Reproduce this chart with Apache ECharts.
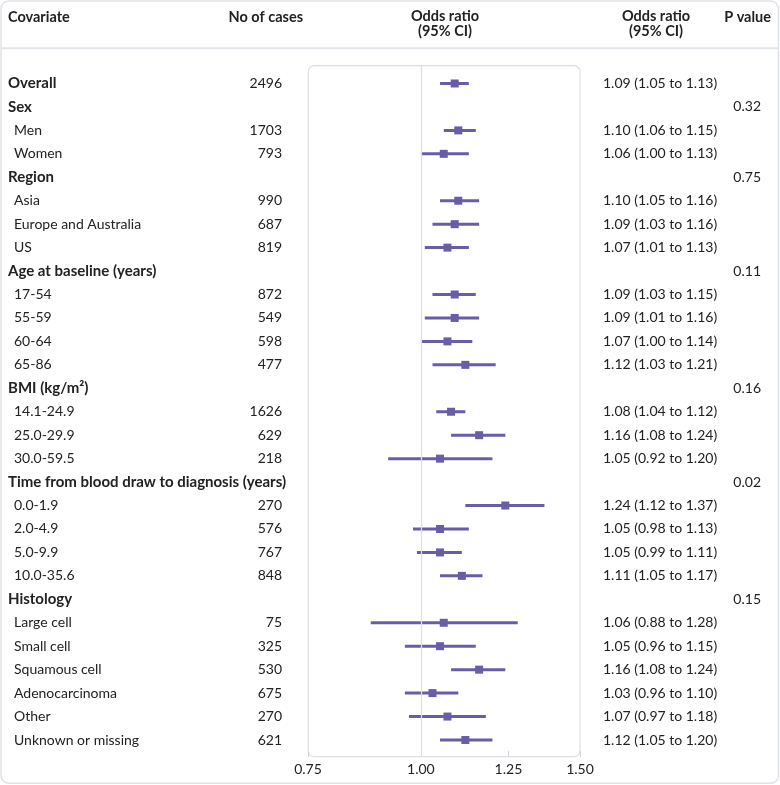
<!DOCTYPE html>
<html><head><meta charset="utf-8">
<script src="https://cdn.jsdelivr.net/npm/echarts@6/dist/echarts.min.js"></script>
<style>html,body{margin:0;padding:0;background:#fff}#c{width:780px;height:785px}</style>
</head><body><div id="c"></div>
<script>
const labels = ['Overall','Sex','Men','Women','Region','Asia','Europe and Australia','US','Age at baseline (years)','17-54','55-59','60-64','65-86','BMI (kg/m²)','14.1-24.9','25.0-29.9','30.0-59.5','Time from blood draw to diagnosis (years)','0.0-1.9','2.0-4.9','5.0-9.9','10.0-35.6','Histology','Large cell','Small cell','Squamous cell','Adenocarcinoma','Other','Unknown or missing'];
const isHeader = [1,1,0,0,1,0,0,0,1,0,0,0,0,1,0,0,0,1,0,0,0,0,1,0,0,0,0,0,0];
const cases = ['2496','','1703','793','','990','687','819','','872','549','598','477','','1626','629','218','','270','576','767','848','','75','325','530','675','270','621'];
const oddsRatio = [1.09,null,1.10,1.06,null,1.10,1.09,1.07,null,1.09,1.09,1.07,1.12,null,1.08,1.16,1.05,null,1.24,1.05,1.05,1.11,null,1.06,1.05,1.16,1.03,1.07,1.12];
const ciLower   = [1.05,null,1.06,1.00,null,1.05,1.03,1.01,null,1.03,1.01,1.00,1.03,null,1.04,1.08,0.92,null,1.12,0.98,0.99,1.05,null,0.88,0.96,1.08,0.96,0.97,1.05];
const ciUpper   = [1.13,null,1.15,1.13,null,1.16,1.16,1.13,null,1.15,1.16,1.14,1.21,null,1.12,1.24,1.20,null,1.37,1.13,1.11,1.17,null,1.28,1.15,1.24,1.10,1.18,1.20];
const pValues = ['','0.32','','','0.75','','','','0.11','','','','','0.16','','','','0.02','','','','','0.15','','','','','',''];
const xTicks = [0.75, 1.00, 1.25, 1.50];

const FONT = 'Lato';
const TXT = '#222';
const LINE = '#dcdfe6';
const PURPLE = '#6b5ca8';

const rowIdx = labels.map((_, i) => i);
const ciData = [], pointData = [];
rowIdx.forEach(i => {
  if (oddsRatio[i] != null) {
    ciData.push([ciLower[i], ciUpper[i], i]);
    pointData.push([oddsRatio[i], i]);
  }
});
const orText = rowIdx.map(i => oddsRatio[i] == null ? '' :
  `${oddsRatio[i].toFixed(2)} (${ciLower[i].toFixed(2)} to ${ciUpper[i].toFixed(2)})`);

const yMin = -0.746, yMax = 28.725;
function labelAxis(position, margin, align, fmt, rich) {
  return {
    type: 'value', position: position, min: yMin, max: yMax, inverse: true,
    axisLine: {show: false, onZero: false}, axisTick: {show: false}, splitLine: {show: false},
    axisLabel: {
      customValues: rowIdx, margin: margin, align: align, formatter: fmt,
      color: TXT, fontFamily: FONT, fontSize: 14, rich: rich
    }
  };
}

const chart = echarts.init(document.getElementById('c'), null, {renderer: 'canvas'});
chart.setOption({
  animation: false,
  backgroundColor: '#fff',
  grid: {left: 308, right: 200, top: 66, bottom: 28},
  xAxis: {
    type: 'log', logBase: 10, min: 0.75, max: 1.5, position: 'bottom',
    axisLine: {show: false, onZero: false},
    splitLine: {show: false},
    axisTick: {show: true, inside: true, length: 6, customValues: xTicks, lineStyle: {color: '#cfd3db', width: 1}},
    axisLabel: {customValues: xTicks, formatter: v => v.toFixed(2), margin: 5, color: TXT, fontFamily: FONT, fontSize: 14}
  },
  yAxis: [
    labelAxis('left', 300, 'left',
      v => isHeader[v] ? `{h|${labels[v]}}` : `{n|${labels[v]}}`,
      {h: {fontWeight: 'bold', fontFamily: FONT, fontSize: 15, color: TXT},
       n: {fontFamily: FONT, fontSize: 14, color: TXT, padding: [0, 0, 0, 6]}}),
    labelAxis('left', 26, 'right', v => cases[v]),
    labelAxis('right', 23, 'left', v => orText[v]),
    labelAxis('right', 181, 'right', v => pValues[v])
  ],
  series: [
    {
      type: 'custom', yAxisIndex: 0,
      encode: {x: [0, 1], y: 2},
      data: ciData,
      renderItem: function (params, api) {
        const a = api.coord([api.value(0), api.value(2)]);
        const b = api.coord([api.value(1), api.value(2)]);
        return {type: 'line', shape: {x1: a[0], y1: a[1], x2: b[0], y2: b[1]},
                style: {stroke: PURPLE, lineWidth: 3}};
      },
      markLine: {
        silent: true, symbol: 'none', label: {show: false},
        lineStyle: {color: LINE, type: 'solid', width: 1.2},
        data: [{xAxis: 1}]
      },
      z: 2
    },
    {
      type: 'scatter', yAxisIndex: 0, data: pointData,
      symbol: 'rect', symbolSize: 8,
      itemStyle: {color: PURPLE, opacity: 1}, z: 3
    }
  ],
  graphic: [
    {type: 'rect', silent: true, z: -1, shape: {x: 1, y: 1, width: 777.5, height: 782.3, r: 8},
     style: {fill: 'none', stroke: '#dfe2e8', lineWidth: 1.5}},
    {type: 'line', silent: true, shape: {x1: 1, y1: 48.3, x2: 778.5, y2: 48.3},
     style: {stroke: '#e2e5ea', lineWidth: 2}},
    {type: 'rect', silent: true, z: -1, shape: {x: 308.3, y: 65.7, width: 271.7, height: 691, r: 6},
     style: {fill: 'none', stroke: LINE, lineWidth: 1.2}},
    {type: 'text', style: {text: 'Covariate', x: 8, y: 17, textVerticalAlign: 'middle', textAlign: 'left', font: 'bold 14.5px ' + FONT, fill: TXT}},
    {type: 'text', style: {text: 'No of cases', x: 303, y: 17, textVerticalAlign: 'middle', textAlign: 'right', font: 'bold 14.5px ' + FONT, fill: TXT}},
    {type: 'text', style: {text: 'Odds ratio\n(95% CI)', x: 445, y: 9, lineHeight: 15, textVerticalAlign: 'top', textAlign: 'center', font: 'bold 14.5px ' + FONT, fill: TXT}},
    {type: 'text', style: {text: 'Odds ratio\n(95% CI)', x: 656, y: 9, lineHeight: 15, textVerticalAlign: 'top', textAlign: 'center', font: 'bold 14.5px ' + FONT, fill: TXT}},
    {type: 'text', style: {text: 'P value', x: 771, y: 17, textVerticalAlign: 'middle', textAlign: 'right', font: 'bold 14.5px ' + FONT, fill: TXT}}
  ]
});
</script></body></html>
